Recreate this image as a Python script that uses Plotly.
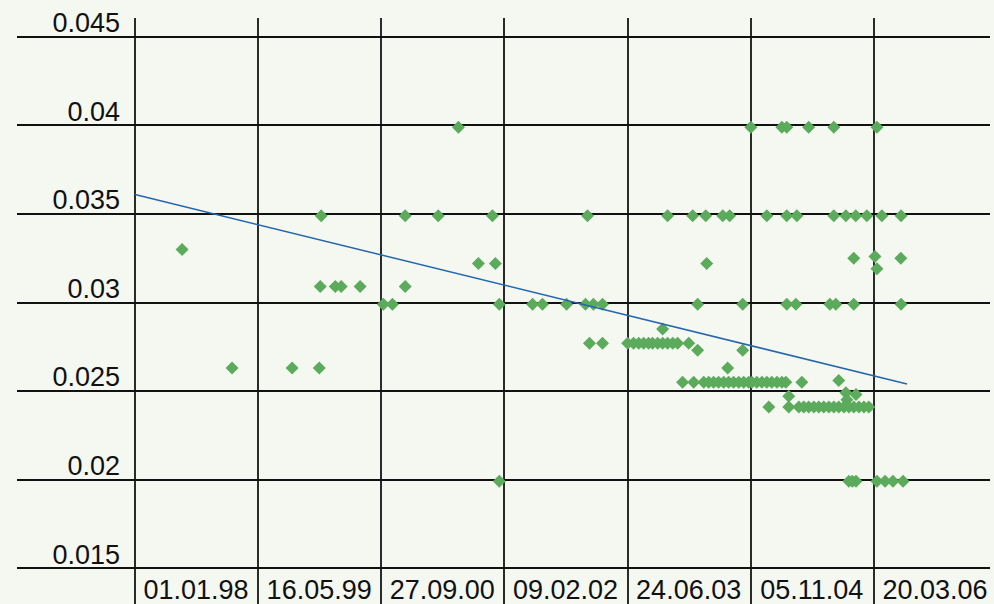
import plotly.graph_objects as go

# ---- axis ticks ----
tick_dates = ["1998-01-01", "1999-05-16", "2000-09-27", "2002-02-09",
              "2003-06-24", "2004-11-05", "2006-03-20"]
tick_labels = ["01.01.98", "16.05.99", "27.09.00", "09.02.02",
               "24.06.03", "05.11.04", "20.03.06"]
y_ticks = [0.015, 0.02, 0.025, 0.03, 0.035, 0.04, 0.045]
y_tick_labels = ["0.015", "0.02", "0.025", "0.03", "0.035", "0.04", "0.045"]

# ---- observations (date, rate) ----
dates_a = ["1998-07-11", "1999-01-30", "1999-10-01", "2000-01-19"]
rates_a = [0.0330, 0.0263, 0.0263, 0.0263]

dates_035 = ["2000-01-27", "2001-01-02", "2001-05-16", "2001-12-22", "2003-01-12",
             "2003-12-03", "2004-03-14", "2004-05-06", "2004-07-14", "2004-08-11",
             "2005-01-09", "2005-03-31", "2005-05-11", "2005-10-08", "2005-11-26",
             "2006-01-05", "2006-02-19", "2006-04-21", "2006-07-08"]
rates_035 = [0.0349, 0.0349, 0.0349, 0.0349, 0.0349,
             0.0349, 0.0349, 0.0349, 0.0349, 0.0349,
             0.0349, 0.0349, 0.0349, 0.0349, 0.0349,
             0.0349, 0.0349, 0.0349, 0.0349]

dates_040 = ["2001-08-06", "2004-11-05", "2005-03-11", "2005-03-31", "2005-06-28",
             "2005-10-08", "2006-04-01"]
rates_040 = [0.0399, 0.0399, 0.0399, 0.0399, 0.0399, 0.0399, 0.0399]

dates_032 = ["2001-10-26", "2002-01-03", "2004-05-10", "2005-12-28", "2006-03-24",
             "2006-04-01", "2006-07-07"]
rates_032 = [0.0322, 0.0322, 0.0322, 0.0325, 0.0326, 0.0319, 0.0325]

dates_031 = ["2000-01-23", "2000-03-24", "2000-04-17", "2000-07-03", "2001-01-02"]
rates_031 = [0.0309, 0.0309, 0.0309, 0.0309, 0.0309]

dates_030 = ["2000-10-05", "2000-11-11", "2002-01-19", "2002-06-03", "2002-07-13",
             "2002-10-19", "2003-01-04", "2003-02-05", "2003-03-14", "2004-04-03",
             "2004-10-03", "2005-03-31", "2005-05-07", "2005-09-22", "2005-10-16",
             "2005-12-28", "2006-07-08"]
rates_030 = [0.0299, 0.0299, 0.0299, 0.0299, 0.0299,
             0.0299, 0.0299, 0.0299, 0.0299, 0.0299,
             0.0299, 0.0299, 0.0299, 0.0299, 0.0299,
             0.0299, 0.0299]

dates_028 = ["2003-01-20", "2003-03-14", "2003-06-24", "2003-07-18", "2003-08-08",
             "2003-08-28", "2003-09-17", "2003-10-03", "2003-10-24", "2003-11-13",
             "2003-12-03", "2003-12-24", "2004-01-13", "2004-02-27", "2004-04-03",
             "2003-11-13", "2004-10-03", "2004-08-03"]
rates_028 = [0.0277, 0.0277, 0.0277, 0.0277, 0.0277,
             0.0277, 0.0277, 0.0277, 0.0277, 0.0277,
             0.0277, 0.0277, 0.0277, 0.0277, 0.0273,
             0.0285, 0.0273, 0.0263]

dates_0255 = ["2004-02-02", "2004-03-18", "2004-04-28", "2004-05-18", "2004-06-07",
              "2004-06-27", "2004-07-18", "2004-08-07", "2004-08-27", "2004-09-17",
              "2004-10-07", "2004-10-27", "2004-11-09", "2004-11-29", "2004-12-20",
              "2005-01-09", "2005-01-29", "2005-02-19", "2005-03-11", "2005-03-27",
              "2005-05-31", "2005-10-28"]
rates_0255 = [0.0255, 0.0255, 0.0255, 0.0255, 0.0255,
              0.0255, 0.0255, 0.0255, 0.0255, 0.0255,
              0.0255, 0.0255, 0.0255, 0.0255, 0.0255,
              0.0255, 0.0255, 0.0255, 0.0255, 0.0255,
              0.0255, 0.0256]

dates_024 = ["2005-01-17", "2005-04-08", "2005-05-19", "2005-06-08", "2005-06-28",
             "2005-07-19", "2005-08-08", "2005-08-28", "2005-09-18", "2005-10-08",
             "2005-10-28", "2005-11-18", "2005-12-08", "2005-12-28", "2006-01-18",
             "2006-02-07", "2006-02-27", "2005-04-08", "2005-11-26", "2005-11-30",
             "2006-01-06"]
rates_024 = [0.0241, 0.0241, 0.0241, 0.0241, 0.0241,
             0.0241, 0.0241, 0.0241, 0.0241, 0.0241,
             0.0241, 0.0241, 0.0241, 0.0241, 0.0241,
             0.0241, 0.0241, 0.0247, 0.0249, 0.0245,
             0.0248]

dates_020 = ["2002-01-19", "2005-12-08", "2005-12-22", "2006-01-06", "2006-04-01",
             "2006-05-04", "2006-06-05", "2006-07-16"]
rates_020 = [0.0199, 0.0199, 0.0199, 0.0199, 0.0199, 0.0199, 0.0199, 0.0199]

# ---- trend line end points ----
trend_dates = ["1998-01-01", "2006-08-01"]
trend_rates = [0.0361, 0.0254]

all_dates = (dates_a + dates_035 + dates_040 + dates_032 + dates_031 +
             dates_030 + dates_028 + dates_0255 + dates_024 + dates_020)
all_rates = (rates_a + rates_035 + rates_040 + rates_032 + rates_031 +
             rates_030 + rates_028 + rates_0255 + rates_024 + rates_020)

FONT = "Liberation Sans, Arial, sans-serif"
BG = "#f4f8f1"

fig = go.Figure()
fig.add_trace(go.Scatter(
    x=all_dates, y=all_rates, mode="markers",
    marker=dict(symbol="diamond", size=10, color="#5cab5c", line=dict(width=0)),
    showlegend=False,
))
fig.add_trace(go.Scatter(
    x=trend_dates, y=trend_rates, mode="lines",
    line=dict(color="#2566ad", width=1.5),
    showlegend=False,
))

fig.update_layout(
    width=994, height=604,
    margin=dict(l=17, r=4, t=18, b=0, autoexpand=False),
    paper_bgcolor=BG,
    plot_bgcolor=BG,
    showlegend=False,
    font=dict(family=FONT, color="#111111"),
    xaxis=dict(
        type="date",
        range=["1996-09-09", "2007-07-04"],
        tickmode="array", tickvals=tick_dates, ticktext=tick_labels,
        showgrid=True, gridcolor="#2a2a2a", gridwidth=2,
        zeroline=False, showline=False, ticks="",
        anchor="free", position=0.0563, automargin=False,
        ticklabelshift=61,
        tickfont=dict(size=27, family=FONT, color="#111111"),
    ),
    yaxis=dict(
        range=[0.01297, 0.04607],
        tickmode="array", tickvals=y_ticks, ticktext=y_tick_labels,
        showgrid=True, gridcolor="#111111", gridwidth=2,
        zeroline=False, showline=False, ticks="",
        anchor="free", position=0.106, automargin=False,
        ticklabelshift=-14,
        tickfont=dict(size=27, family=FONT, color="#111111"),
    ),
)

fig.write_html(
    "out.html",
    config={"displayModeBar": False},
    post_script="document.body.style.margin='0px';"
                "document.body.style.overflow='hidden';"
                "document.body.style.background='" + BG + "';",
)
